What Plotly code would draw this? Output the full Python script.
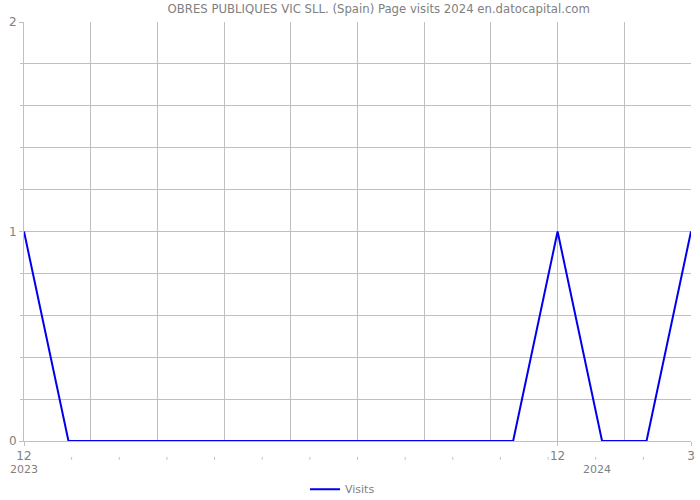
import plotly.graph_objects as go

month_index = list(range(16))
visits = [1, 0, 0, 0, 0, 0, 0, 0, 0, 0, 0, 0, 1, 0, 0, 1]
x_tick_vals = [0, 12, 15]
x_tick_text = ["12", "12", "3"]
year_labels = ["2023", "2024"]
year_label_pos = [0, 12.89]
y_tick_vals = [0, 1, 2]

grey = "#808080"
grid = "#c0c0c0"

fig = go.Figure()
fig.add_trace(go.Scatter(x=month_index, y=visits, mode="lines", name="Visits",
                         line=dict(color="#0000ee", width=2)))

fig.update_layout(
    width=700, height=500,
    margin=dict(l=24, r=9, t=22, b=59, autoexpand=False),
    plot_bgcolor="white", paper_bgcolor="white",
    font=dict(family="DejaVu Sans", size=11, color=grey),
    title=dict(text="OBRES PUBLIQUES VIC SLL. (Spain) Page visits 2024 en.datocapital.com",
               x=0.541, xanchor="center", y=0.982, yanchor="middle",
               font=dict(size=11.7, color=grey)),
    showlegend=True,
    legend=dict(orientation="h", x=0.4775, xanchor="center", y=-0.115, yanchor="middle",
                font=dict(size=11, color=grey)),
)
fig.update_xaxes(range=[0, 15], tickvals=x_tick_vals, ticktext=x_tick_text,
                 automargin=False,
                 showgrid=True, gridcolor=grid, gridwidth=1,
                 ticks="outside", ticklen=4, tickcolor=grid,
                 showline=True, linecolor=grid, zeroline=False,
                 minor=dict(dtick=1.5, tick0=0, showgrid=True, gridcolor=grid, ticklen=0),
                 tickfont=dict(size=12, color=grey))
fig.update_yaxes(range=[0, 2], tickvals=y_tick_vals, automargin=False,
                 showgrid=True, gridcolor=grid, gridwidth=1,
                 ticks="outside", ticklen=4, tickcolor=grid,
                 showline=True, linecolor=grid, zeroline=False,
                 minor=dict(dtick=0.2, tick0=0, showgrid=True, gridcolor=grid,
                            ticks="outside", ticklen=3, tickcolor=grid),
                 tickfont=dict(size=12, color=grey))

for lbl, pos in zip(year_labels, year_label_pos):
    fig.add_annotation(x=pos, y=-0.068, xref="x", yref="paper", text=lbl,
                       showarrow=False, font=dict(size=11, color=grey),
                       xanchor="center", yanchor="middle")

step = 15 / 14
for i in range(15):
    fig.add_shape(type="line", xref="x", yref="paper", x0=i * step, x1=i * step,
                  y0=-0.038, y1=-0.045, line=dict(color=grid, width=1))

fig.write_html("out.html")
